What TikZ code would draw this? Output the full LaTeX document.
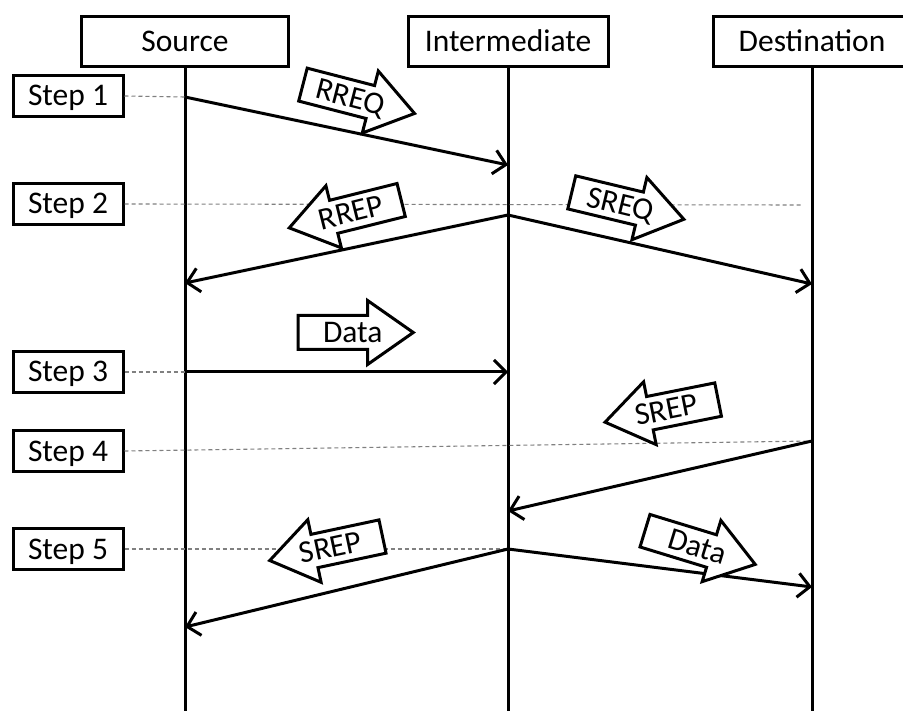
\documentclass[tikz,border=0pt]{standalone}
\usepackage{fontspec}
\setmainfont{Carlito}
\usetikzlibrary{shapes.arrows,arrows.meta}
\begin{document}
\begin{tikzpicture}[x=1pt,y=-1pt,
  lbl/.style={draw,line width=3pt,fill=white,font=\fontsize{31.5}{36}\selectfont,inner sep=0pt,text height=24pt,text depth=4pt},
  actor/.style={lbl,minimum height=50pt},
  stepbox/.style={lbl,minimum width=110pt,minimum height=41pt},
  life/.style={line width=3pt},
  msg/.style={line width=3pt,-{Straight Barb[length=12pt,width=24pt]}},
  guide/.style={gray,line width=1.1pt,dash pattern=on 4pt off 3pt},
  blk/.style={single arrow,draw,fill=white,line width=3pt,font=\fontsize{31.5}{36}\selectfont,single arrow head extend=15pt,single arrow tip angle=70,inner xsep=5pt,inner ysep=1.5pt,text height=24pt,text depth=4pt,text width=78pt,align=right},
  blkl/.style={blk,shape border rotate=180,align=left}
]
\useasboundingbox (0,0) rectangle (903,711);
\coordinate (bot) at (0,711);
% actors
\node[actor,minimum width=207pt] (src) at (185,42) {Source};
\node[actor,minimum width=200pt] (int) at (508,42) {Intermediate};
\node[actor,minimum width=198pt] (dst) at (812,42) {Destination};
\draw[life] (src.south) -- (src.south |- bot);
\draw[life] (int.south) -- (int.south |- bot);
\draw[life] (dst.south) -- (dst.south |- bot);
% steps
\node[stepbox] (st1) at (68,96) {Step 1};
\node[stepbox] (st2) at (68,204) {Step 2};
\node[stepbox] (st3) at (68,372) {Step 3};
\node[stepbox] (st4) at (68,451) {Step 4};
\node[stepbox] (st5) at (68,549) {Step 5};
% message points
\coordinate (a1) at (185,97);
\coordinate (b1) at (508,165);
\coordinate (a2) at (508,215);
\coordinate (b2) at (185,283);
\coordinate (c2) at (812,284);
\coordinate (g2) at (803,205);
\coordinate (a3) at (185,372);
\coordinate (b3) at (508,372);
\coordinate (a4) at (812,441);
\coordinate (b4) at (508,511);
\coordinate (a5) at (508,549);
\coordinate (b5) at (185,627);
\coordinate (c5) at (812,587);
% guides
\draw[guide] (st1.east) -- (a1);
\draw[guide] (st2.east) -- (g2);
\draw[guide] (st3.east) -- (a3);
\draw[guide] (st4.east) -- (a4);
\draw[guide] (st5.east) -- (a5);
% messages
\draw[msg] (a1) -- (b1);
\draw[msg] (a2) -- (b2);
\draw[msg] (a2) -- (c2);
\draw[msg] (a3) -- (b3);
\draw[msg] (a4) -- (b4);
\draw[msg] (a5) -- (b5);
\draw[msg] (a5) -- (c5);
% block arrows
\node[blk,rotate=-14.5] (rreq) at (347,96) {RREQ};
\node[blkl,rotate=14] (rrep) at (357,211) {RREP};
\node[blk,rotate=-13.5] (sreq) at (616,203) {SREQ};
\node[blk] (data1) at (343.5,332.5) {Data};
\node[blkl,rotate=11.3] (srep1) at (673.5,408.5) {SREP};
\node[blkl,rotate=12] (srep2) at (338,546) {SREP};
\node[blk,rotate=-17] (data2) at (688.5,544) {Data};
\end{tikzpicture}
\end{document}
